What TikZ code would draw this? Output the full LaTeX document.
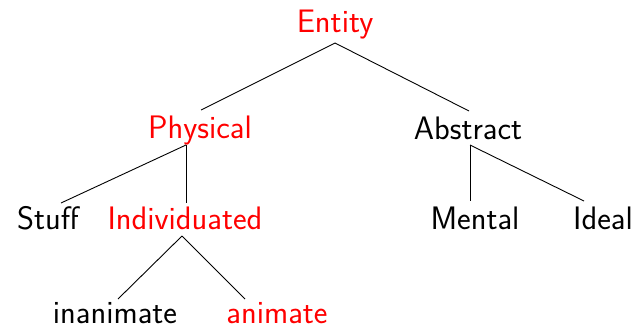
\documentclass[tikz,border=0pt]{standalone}
\usepackage{fontspec}
\usetikzlibrary{calc}
\definecolor{hl}{RGB}{255,0,0}
\begin{document}
\begin{tikzpicture}[x=1pt,y=-1pt,
  lbl/.style={anchor=base,inner sep=0pt,font=\sffamily\fontsize{32.5}{39}\selectfont},
  red/.style={lbl,text=hl},
  edge/.style={line width=0.9pt,black}]
\useasboundingbox (0,0) rectangle (639,332);
\node[red] (entity) at (335,32) {Entity};
\node[red] (physical) at (200,138) {Physical};
\node[lbl] (abstract) at (468,139) {Abstract};
\node[lbl] (stuff) at (48,229) {Stuff};
\node[red] (indiv) at (185,229) {Individuated};
\node[lbl] (mental) at (475,229) {Mental};
\node[lbl] (ideal) at (603,229) {Ideal};
\node[lbl] (inanimate) at (115,323) {inanimate};
\node[red] (animate) at (277,323) {animate};
\draw[edge] ($(entity.base)+(0,11)$) -- ($(physical.base)+(1,-28)$);
\draw[edge] ($(entity.base)+(0,11)$) -- ($(abstract.base)+(1,-28)$);
\draw[edge] ($(physical.base)+(-14,7)$) -- ($(stuff.base)+(13,-26)$);
\draw[edge] ($(physical.base)+(-14,7)$) -- ($(indiv.base)+(1,-26)$);
\draw[edge] ($(abstract.base)+(2,6)$) -- ($(mental.base)+(-5,-28)$);
\draw[edge] ($(abstract.base)+(2,6)$) -- ($(ideal.base)+(-19,-28)$);
\draw[edge] ($(indiv.base)+(-3,7)$) -- ($(inanimate.base)+(3,-24)$);
\draw[edge] ($(indiv.base)+(-3,7)$) -- ($(animate.base)+(-32,-24)$);
\end{tikzpicture}
\end{document}
